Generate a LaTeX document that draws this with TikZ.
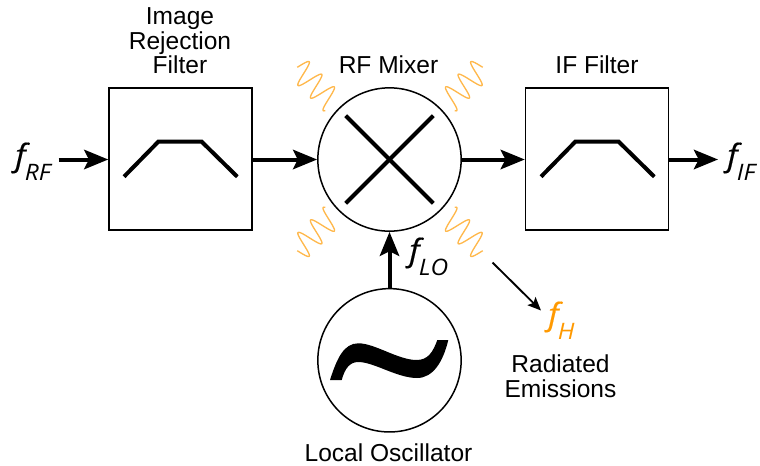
\documentclass[tikz,border=0pt]{standalone}
\usepackage{fontspec}
\setmainfont{Liberation Sans}
\newfontfamily\symfont[FakeStretch=1.08]{Open Sans}
\newfontfamily\ffont[FakeStretch=1.08,FakeBold=0.4]{Open Sans}
\usetikzlibrary{arrows.meta}
\definecolor{hot}{HTML}{FF9900}
\newcommand{\freq}[1]{{\ffont\itshape\fontsize{23}{23}\selectfont f\kern-0.5pt\raisebox{-11pt}{\symfont\itshape\fontsize{17}{17}\selectfont #1}}}
\tikzset{
  x=0.75pt,y=-0.75pt,
  lbl/.style={font=\fontsize{18.4}{18.4}\selectfont,inner sep=0pt,align=center,text=black},
  sym/.style={inner sep=0pt,anchor=base west},
  blockbox/.style={draw=black,line width=1.5pt*0.75,minimum width=107.25pt,minimum height=106.5pt,inner sep=0pt},
  circ/.style={draw=black,circle,line width=1.5pt*0.75,minimum size=107.5pt,inner sep=0pt},
  thick line/.style={line width=3pt,line cap=butt},
  sig/.style={line width=3pt,-{Stealth[length=18pt,width=14.5pt,inset=3.5pt]}},
  thin arrow/.style={line width=1.4pt,-{Stealth[length=10pt,width=8.5pt,inset=2pt]}},
  wave/.style={draw=hot!70!white,line width=1pt,line join=round},
}
\newcommand{\wavy}[2]{\begin{scope}[shift={(390,159)},xscale=#1,yscale=#2]
\draw[wave] plot[domain=0:2.83,samples=120,smooth] ({-92.7+(17.8*\x+12.3*sin(360*\x))/1.414},{-91.7+(17.8*\x-12.3*sin(360*\x))/1.414});
\end{scope}}
\begin{document}
\begin{tikzpicture}
\useasboundingbox (0,0) rectangle (760,465);
\node[blockbox] (irf) at (180.5,159) {};
\node[blockbox] (iff) at (597,159) {};
\node[circ] (mix) at (389.5,159.5) {};
\node[circ] (lo) at (389.5,360.3) {};
% filter glyphs
\draw[thick line,line join=miter] (124,176.7) -- (158.3,141.7) -- (201.7,141.7) -- (237.3,176.7);
\draw[thick line,line join=miter] (541,176.7) -- (575.3,141.7) -- (618.7,141.7) -- (654.3,176.7);
% mixer cross
\draw[thick line] (345.7,115.7) -- (433.3,203.3);
\draw[thick line] (433.3,115.7) -- (345.7,203.3);
% tilde
\fill[black] (330,380) .. controls (337,358) and (344,343.3) .. (358.3,343.3)
  .. controls (375,343.3) and (398,360) .. (416.7,360)
  .. controls (428,360) and (433,352) .. (437.3,340)
  -- (448.3,340)
  .. controls (443,362) and (433,378) .. (417,378)
  .. controls (397,378) and (374,362) .. (358.3,362)
  .. controls (350,362) and (345,368) .. (341.7,380) -- cycle;
% waves
\wavy{1}{1}\wavy{-1}{1}\wavy{1}{-1}\wavy{-1}{-1}
% labels
\node[lbl] (irflabel) at (180,41) {Image\\Rejection\\Filter};
\node[lbl,anchor=base] (mixlabel) at (388.5,73) {RF Mixer};
\node[lbl,anchor=base] (ifflabel) at (597,73) {IF Filter};
\node[lbl,anchor=base] (lolabel) at (388.5,461.5) {Local Oscillator};
\node[lbl] (radlabel) at (560.5,376) {Radiated\\Emissions};
\node[sym] (frf) at (15,166) {\freq{RF}};
\node[sym] (fif) at (727,166) {\freq{IF}};
\node[sym] (flo) at (409,261) {\freq{LO}};
\node[sym,text=hot] (fh) at (548,325) {\freq{H}};
% connectors
\coordinate (rfstart) at (58.5,159.5);
\coordinate (ifend) at (718,159.5);
\coordinate (hstart) at (492.5,262.5);
\coordinate (hend) at (541,310.5);
\draw[sig] (rfstart) -- (rfstart -| irf.west);
\draw[sig] (irf.east |- mix.west) -- (mix.west);
\draw[sig] (mix.east) -- (iff.west |- mix.east);
\draw[sig] (iff.east |- ifend) -- (ifend);
\draw[sig] (lo.north) -- (mix.south);
\draw[thin arrow] (hstart) -- (hend);
\end{tikzpicture}
\end{document}
